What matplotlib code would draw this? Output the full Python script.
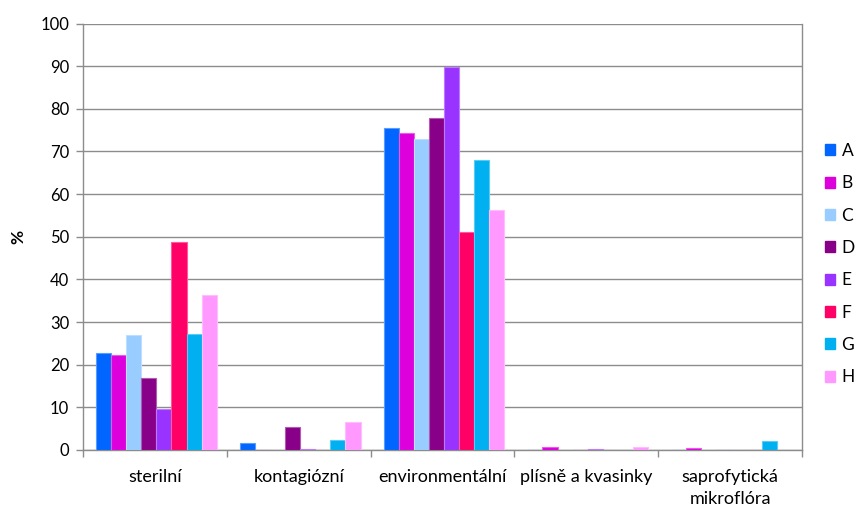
import matplotlib
matplotlib.use("Agg")
import matplotlib.pyplot as plt
import matplotlib.patches as mpatches
import matplotlib.colors as mcolors
import numpy as np

categories = ["sterilní", "kontagiózní", "environmentální", "plísně a kvasinky", "saprofytická\nmikroflóra"]
series_names = ["A", "B", "C", "D", "E", "F", "G", "H"]
A = [22.7, 1.6, 75.4, 0.0, 0.0]
B = [22.3, 0.0, 74.3, 0.6, 0.5]
C = [26.9, 0.0, 72.9, 0.0, 0.0]
D = [16.9, 5.5, 77.9, 0.0, 0.0]
E = [9.5, 0.2, 89.9, 0.2, 0.0]
F = [48.8, 0.0, 51.2, 0.0, 0.0]
G = [27.2, 2.3, 68.1, 0.0, 2.1]
H = [36.3, 6.6, 56.3, 0.7, 0.0]
series_values = [A, B, C, D, E, F, G, H]
colors = ["#0066FF", "#DD00DD", "#99CCFF", "#880088", "#9933FF", "#FF0066", "#00B0F0", "#FF99FF"]
yticks = [0, 10, 20, 30, 40, 50, 60, 70, 80, 90, 100]

plt.rcParams['font.family'] = ['Lato', 'DejaVu Sans']

fig = plt.figure(figsize=(8.56, 5.09), dpi=100)
ax = fig.add_axes([83/856, 59/509, (802-83)/856, (450-23.5)/509])

x = np.arange(len(categories))
w = 0.105
n = len(series_names)
for j, (name, vals, c) in enumerate(zip(series_names, series_values, colors)):
    rgb = np.array(mcolors.to_rgb(c))
    edge = tuple(rgb + (1 - rgb) * 0.35)
    ax.bar(x + (j - (n - 1) / 2) * w + 0.01, vals, width=w, color=c,
           edgecolor=edge, linewidth=0.8, label=name, zorder=3)

ax.set_xlim(-0.5, len(categories) - 0.5)
ax.set_ylim(0, 100)
ax.set_yticks(yticks)
ax.set_yticklabels([str(t) for t in yticks], fontsize=12)
ax.yaxis.grid(True, color="#8c8c8c", linewidth=1.0, zorder=0)
ax.set_axisbelow(True)

ax.set_xticks(x)
ax.set_xticklabels(categories, fontsize=13, linespacing=1.4)
ax.tick_params(axis="x", which="major", length=0, pad=14)
ax.set_xticks(np.arange(-0.5, len(categories)), minor=True)
ax.tick_params(axis="x", which="minor", length=5, color="#8c8c8c", width=1.0)
ax.tick_params(axis="y", length=5, color="#8c8c8c", width=1.0, pad=5)

for s in ["left", "bottom", "right", "top"]:
    ax.spines[s].set_color("#8c8c8c")
    ax.spines[s].set_linewidth(1.0)
ax.spines["top"].set_visible(False)

ax.set_ylabel("%", fontsize=12.5, fontweight="bold", labelpad=10)

handles = [mpatches.Patch(facecolor=c, edgecolor=c, label=nm) for nm, c in zip(series_names, colors)]
leg = ax.legend(handles=handles, loc="upper left", frameon=False, fontsize=12.5,
                handlelength=0.6, handleheight=0.6, handletextpad=0.35,
                labelspacing=0.94, borderaxespad=0, borderpad=0)
leg.set_bbox_to_anchor((825/856, 1 - 143/509), transform=fig.transFigure)

fig.savefig("out.png", dpi=100)
